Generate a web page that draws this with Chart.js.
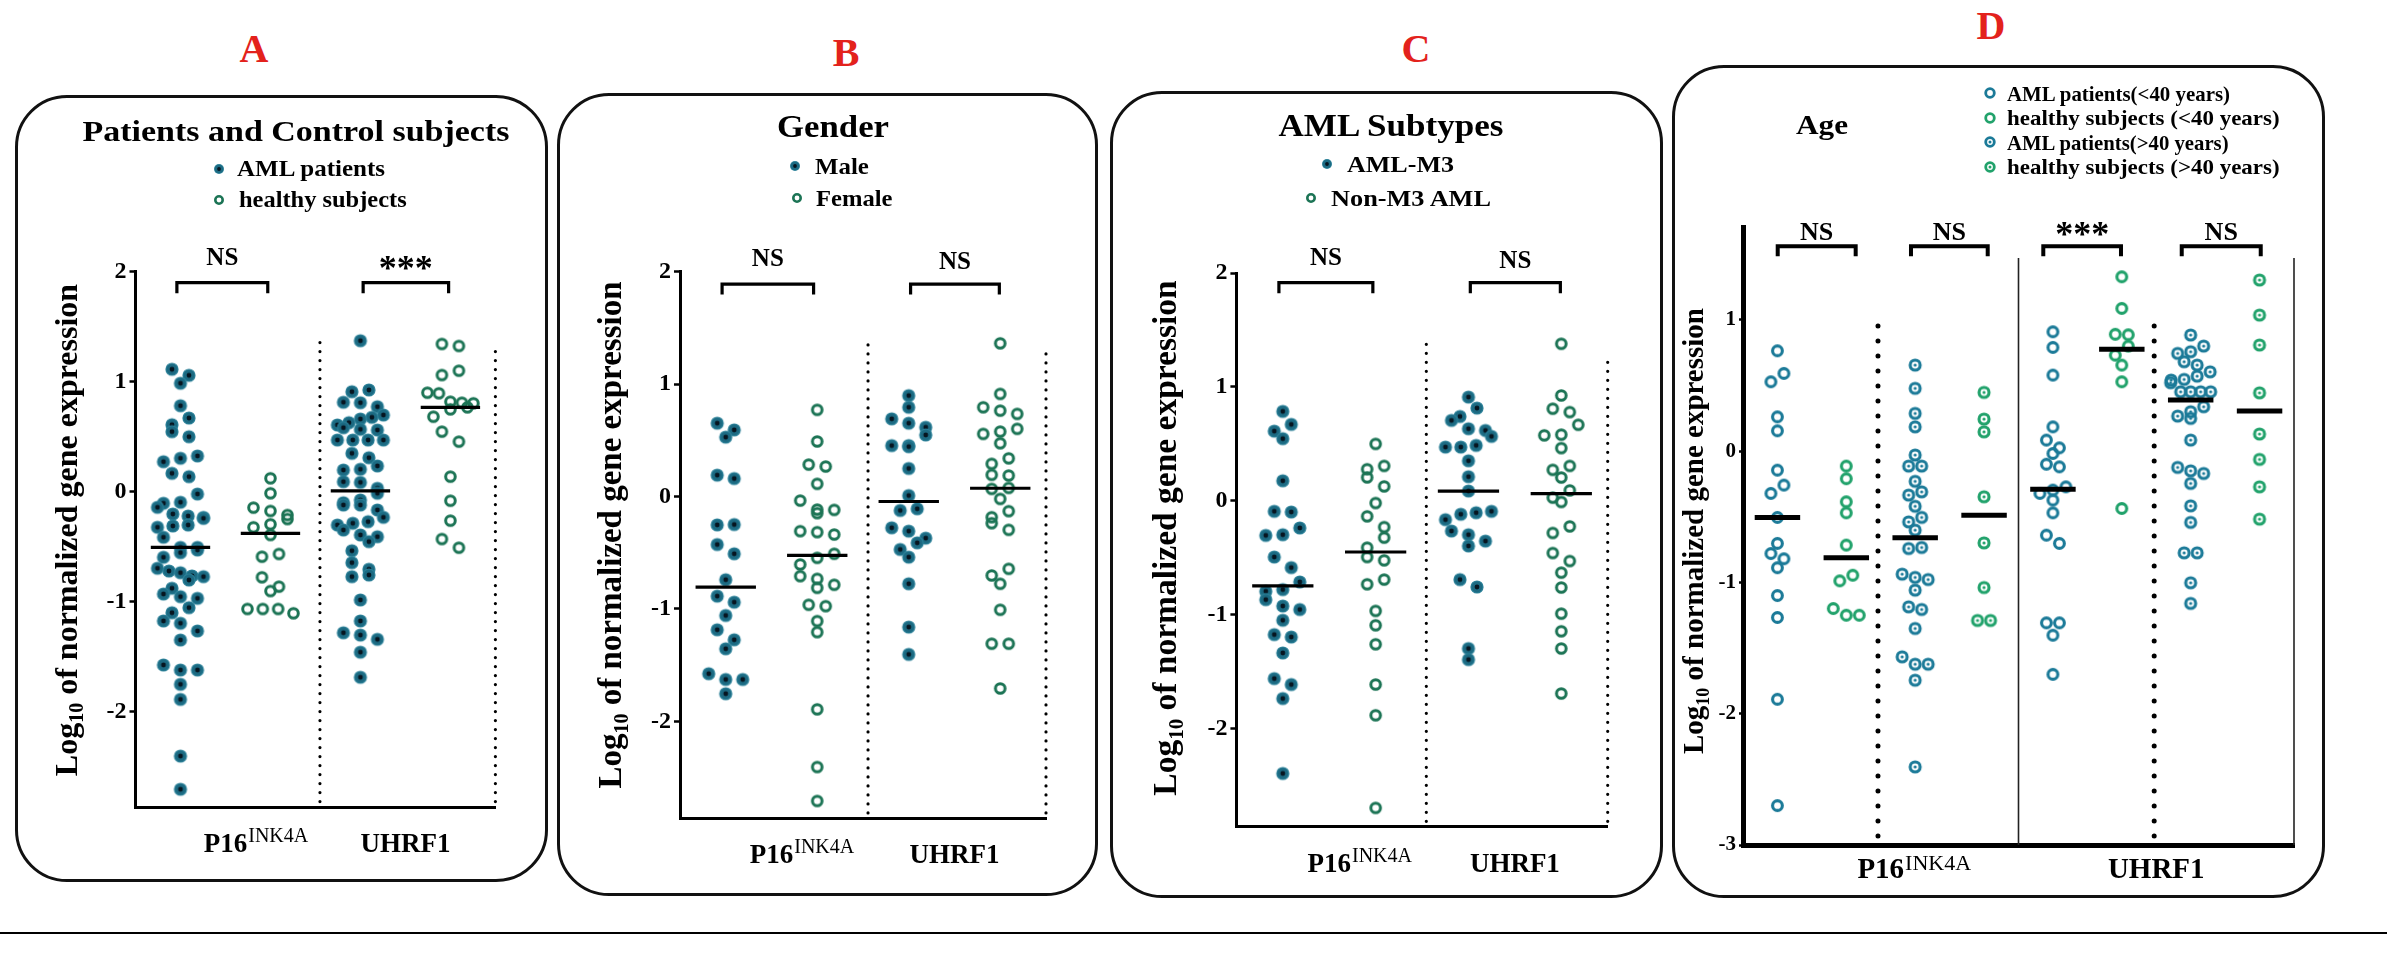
<!DOCTYPE html>
<html><head><meta charset="utf-8">
<script src="https://cdn.jsdelivr.net/npm/chart.js@4.4.1/dist/chart.umd.min.js"></script>
<style>
html,body{margin:0;padding:0;background:#fff;}
body{width:2387px;height:969px;position:relative;overflow:hidden;font-family:"Liberation Serif","Times New Roman",serif;color:#000;}
.box{position:absolute;border:3px solid #111;border-radius:52px;box-sizing:border-box;}
.t{position:absolute;line-height:1;white-space:nowrap;font-weight:bold;z-index:3;}
canvas{position:absolute;z-index:2;}
.mk{position:absolute;z-index:3;}
#bottomline{position:absolute;left:0;top:932px;width:2387px;height:2px;background:#000;}
</style></head><body>
<div class="box" style="left:15px;top:95px;width:533px;height:787px"></div>
<div class="box" style="left:557px;top:93px;width:541px;height:803px"></div>
<div class="box" style="left:1110px;top:91px;width:553px;height:807px"></div>
<div class="box" style="left:1672px;top:65px;width:653px;height:833px"></div>
<div id="bottomline"></div>
<script>
// ---------------- DATA ----------------
const PANEL_LETTERS = ['A', 'B', 'C', 'D'];
const GENES = ['P16', 'UHRF1'];
const GENE_SUP = ['INK4A', ''];
const Y_TITLE = ['Log', '10', ' of normalized gene expression'];
const Y_TICKS_ABC = [2, 1, 0, -1, -2];
const Y_TICKS_D = [1, 0, -1, -2, -3];

// Panel A: Patients and Control subjects
const A_TITLE = 'Patients and Control subjects';
const A_SERIES = ['AML patients', 'healthy subjects'];
const A_aml_p16 = [1.111, 1.056, 0.984, 0.78, 0.668, 0.607, 0.544, 0.498, 0.323, 0.302, 0.271, 0.165, 0.135, -0.023, -0.098, -0.107, -0.144, -0.205, -0.223, -0.236, -0.244, -0.305, -0.313, -0.325, -0.416, -0.508, -0.508, -0.532, -0.556, -0.598, -0.698, -0.723, -0.738, -0.768, -0.774, -0.805, -0.88, -0.932, -0.956, -0.971, -1.056, -1.102, -1.177, -1.198, -1.268, -1.35, -1.577, -1.623, -1.623, -1.753, -1.89, -2.405, -2.707];
const A_healthy_p16 = [0.12, -0.016, -0.147, -0.177, -0.214, -0.25, -0.298, -0.325, -0.395, -0.568, -0.593, -0.78, -0.865, -0.905, -1.068, -1.068, -1.068, -1.107];
const A_aml_uhrf1 = [1.371, 0.923, 0.907, 0.811, 0.807, 0.771, 0.695, 0.674, 0.659, 0.626, 0.605, 0.58, 0.565, 0.559, 0.468, 0.468, 0.468, 0.468, 0.347, 0.307, 0.232, 0.202, 0.195, 0.089, 0.083, 0.029, -0.016, -0.077, -0.102, -0.123, -0.123, -0.168, -0.235, -0.274, -0.289, -0.305, -0.35, -0.395, -0.411, -0.456, -0.538, -0.647, -0.707, -0.759, -0.774, -0.986, -1.177, -1.284, -1.305, -1.344, -1.461, -1.689];
const A_healthy_uhrf1 = [1.341, 1.323, 1.098, 1.059, 0.898, 0.893, 0.816, 0.807, 0.802, 0.765, 0.747, 0.68, 0.544, 0.453, 0.135, -0.084, -0.265, -0.432, -0.511];
const A_medians = [-0.508, -0.38, 0.005, 0.765];
const A_sig = ['NS', '***'];

// Panel B: Gender
const B_TITLE = 'Gender';
const B_SERIES = ['Male', 'Female'];
const B_male_p16 = [0.652, 0.593, 0.528, 0.19, 0.16, -0.249, -0.252, -0.427, -0.509, -0.74, -0.886, -0.94, -1.058, -1.185, -1.274, -1.354, -1.576, -1.627, -1.627, -1.754];
const B_female_p16 = [0.771, 0.49, 0.284, 0.267, 0.113, -0.036, -0.116, -0.119, -0.148, -0.308, -0.317, -0.338, -0.509, -0.545, -0.604, -0.708, -0.732, -0.785, -0.812, -0.963, -0.975, -1.108, -1.206, -1.893, -2.406, -2.708];
const B_male_uhrf1 = [0.898, 0.794, 0.691, 0.652, 0.616, 0.548, 0.453, 0.444, 0.453, 0.25, 0.009, -0.109, -0.124, -0.278, -0.308, -0.37, -0.412, -0.471, -0.539, -0.776, -1.161, -1.404];
const B_female_uhrf1 = [1.363, 0.913, 0.794, 0.764, 0.735, 0.602, 0.578, 0.557, 0.474, 0.34, 0.291, 0.193, 0.187, 0.077, 0.068, -0.021, -0.13, -0.184, -0.237, -0.296, -0.643, -0.702, -0.776, -1.007, -1.309, -1.309, -1.707];
const B_medians = [-0.806, -0.524, -0.044, 0.074];
const B_sig = ['NS', 'NS'];

// Panel C: AML Subtypes
const C_TITLE = 'AML Subtypes';
const C_SERIES = ['AML-M3', 'Non-M3 AML'];
const C_m3_p16 = [0.785, 0.671, 0.612, 0.546, 0.176, -0.092, -0.098, -0.238, -0.297, -0.303, -0.493, -0.586, -0.712, -0.779, -0.794, -0.867, -0.923, -0.954, -1.048, -1.174, -1.195, -1.335, -1.56, -1.612, -1.735, -2.393];
const C_nonm3_p16 = [0.5, 0.307, 0.278, 0.206, 0.127, -0.019, -0.136, -0.23, -0.323, -0.411, -0.493, -0.522, -0.691, -0.732, -0.966, -1.092, -1.259, -1.612, -1.882, -2.695];
const C_m3_uhrf1 = [0.911, 0.814, 0.741, 0.706, 0.633, 0.618, 0.566, 0.487, 0.472, 0.472, 0.352, 0.212, 0.086, -0.092, -0.104, -0.118, -0.165, -0.265, -0.297, -0.353, -0.396, -0.691, -0.756, -1.296, -1.393];
const C_nonm3_uhrf1 = [1.379, 0.925, 0.809, 0.779, 0.668, 0.581, 0.575, 0.463, 0.307, 0.272, 0.205, 0.092, 0.028, -0.01, -0.224, -0.282, -0.458, -0.528, -0.63, -0.761, -0.99, -1.145, -1.296, -1.691];
const C_medians = [-0.746, -0.449, 0.086, 0.063];
const C_sig = ['NS', 'NS'];

// Panel D: Age
const D_TITLE = 'Age';
const D_SERIES = ['AML patients(<40 years)', 'healthy subjects (<40 years)', 'AML patients(>40 years)', 'healthy subjects (>40 years)'];
const D_aml_lt40_p16 = [0.764, 0.592, 0.528, 0.261, 0.155, -0.145, -0.259, -0.322, -0.505, -0.703, -0.78, -0.82, -0.888, -1.10, -1.267, -1.89, -2.70];
const D_hs_lt40_p16 = [-0.114, -0.21, -0.386, -0.47, -0.716, -0.945, -0.988, -1.199, -1.25, -1.25];
const D_aml_gt40_p16 = [0.655, 0.478, 0.287, 0.185, -0.03, -0.114, -0.114, -0.23, -0.31, -0.335, -0.42, -0.505, -0.539, -0.602, -0.734, -0.742, -0.937, -0.962, -0.978, -1.059, -1.186, -1.206, -1.351, -1.567, -1.623, -1.623, -1.745, -2.405];
const D_hs_gt40_p16 = [0.447, 0.244, 0.147, -0.348, -0.699, -1.039, -1.29, -1.29];
const D_aml_lt40_uhrf1 = [0.909, 0.79, 0.579, 0.185, 0.084, 0.025, -0.018, -0.1, -0.12, -0.272, -0.297, -0.322, -0.373, -0.47, -0.64, -0.703, -1.308, -1.308, -1.402, -1.70];
const D_hs_lt40_uhrf1 = [1.328, 1.087, 0.89, 0.886, 0.8, 0.731, 0.655, 0.528, -0.437];
const D_aml_gt40_uhrf1 = [0.884, 0.8, 0.757, 0.744, 0.681, 0.655, 0.604, 0.571, 0.546, 0.541, 0.521, 0.452, 0.452, 0.452, 0.452, 0.338, 0.3, 0.267, 0.249, 0.084, -0.124, -0.15, -0.17, -0.246, -0.417, -0.543, -0.775, -0.775, -1.003, -1.16];
const D_hs_gt40_uhrf1 = [1.303, 1.036, 0.808, 0.444, 0.13, -0.063, -0.272, -0.518];
const D_medians = [-0.505, -0.813, -0.66, -0.488, -0.29, 0.775, 0.389, 0.305];
const D_sig = ['NS', 'NS', '***', 'NS'];

// ---------------- STYLE / MARKERS ----------------
const FONT = '"Liberation Serif", "Times New Roman", serif';
Chart.defaults.font.family = FONT;
const COL = { tealEdge: '#2b8098', teal: '#1c6a82', tealCore: '#061520', green: '#1c7455', dBlue: '#1b7a98', dGreen: '#21a26b' };

function marker(kind, color, r, lw, core) {
  const s = Math.ceil(2 * r + lw + 2);
  const c = document.createElement('canvas'); c.width = s; c.height = s;
  const g = c.getContext('2d'); const m = s / 2;
  if (kind === 'fill') {
    g.fillStyle = COL.tealEdge; g.beginPath(); g.arc(m, m, r, 0, 2 * Math.PI); g.fill();
    g.fillStyle = color; g.beginPath(); g.arc(m, m, r * 0.82, 0, 2 * Math.PI); g.fill();
    g.fillStyle = COL.tealCore; g.beginPath(); g.arc(m, m, core, 0, 2 * Math.PI); g.fill();
  } else {
    g.strokeStyle = color; g.lineWidth = lw; g.beginPath(); g.arc(m, m, r, 0, 2 * Math.PI); g.stroke();
    if (kind === 'ringdot') { g.fillStyle = color; g.beginPath(); g.arc(m, m, core, 0, 2 * Math.PI); g.fill(); }
  }
  return c;
}
const MK = {
  fillA: marker('fill', COL.teal, 6.6, 0, 2.4),
  ringA: marker('ring', COL.green, 4.8, 3.0),
  dAml: marker('ring', COL.dBlue, 4.9, 3.1),
  dHs: marker('ring', COL.dGreen, 4.9, 3.1),
  dAmlDot: marker('ringdot', COL.dBlue, 5.0, 3.1, 1.6),
  dHsDot: marker('ringdot', COL.dGreen, 5.0, 3.1, 1.6),
  legFill: marker('fill', COL.teal, 5.0, 0, 1.9),
  legRing: marker('ring', COL.green, 3.7, 2.6),
  legDAml: marker('ring', COL.dBlue, 4.3, 2.8),
  legDHs: marker('ring', COL.dGreen, 4.3, 2.8),
  legDAmlDot: marker('ringdot', COL.dBlue, 4.3, 2.8, 1.5),
  legDHsDot: marker('ringdot', COL.dGreen, 4.3, 2.8, 1.5)
};

// ---------------- HTML TEXT ----------------
function addText(str, x, capMid, fs, opt) {
  opt = opt || {};
  const d = document.createElement('div'); d.className = 't'; d.textContent = str;
  d.style.fontSize = fs + 'px'; d.style.left = x + 'px'; d.style.top = (capMid - 0.5065 * fs) + 'px';
  if (opt.color) d.style.color = opt.color;
  document.body.appendChild(d);
  const w = d.getBoundingClientRect().width;
  const sx = opt.width ? opt.width / w : 1;
  d.style.transformOrigin = '0 0';
  d.style.transform = (opt.center ? `translateX(${-w * sx / 2}px) ` : '') + `scaleX(${sx})`;
}
function addMarker(c, x, y) {
  const im = document.createElement('img'); im.className = 'mk'; im.src = c.toDataURL();
  im.style.left = (x - c.width / 2) + 'px'; im.style.top = (y - c.height / 2) + 'px';
  document.body.appendChild(im);
}
// panel letters
[[254, 49], [846, 53], [1416, 49], [1991, 26]].forEach((p, i) => addText(PANEL_LETTERS[i], p[0], p[1], 40, { center: true, color: '#e3221c' }));
// titles
addText(A_TITLE, 295.7, 131, 30, { center: true, width: 427 });
addText(B_TITLE, 833, 126, 32, { center: true, width: 112 });
addText(C_TITLE, 1390.6, 125, 32, { center: true, width: 225 });
addText(D_TITLE, 1822, 126, 27, { center: true, width: 52 });
// legends
addMarker(MK.legFill, 219.2, 169.3); addText(A_SERIES[0], 237, 168.5, 24, { width: 148 });
addMarker(MK.legRing, 219.2, 200); addText(A_SERIES[1], 238.9, 199.5, 24, { width: 167.7 });
addMarker(MK.legFill, 794.8, 166); addText(B_SERIES[0], 815, 166, 24, { width: 53.9 });
addMarker(MK.legRing, 796.6, 198.3); addText(B_SERIES[1], 816.4, 198.3, 24, { width: 76.5 });
addMarker(MK.legFill, 1327.4, 164); addText(C_SERIES[0], 1347, 164, 24, { width: 107 });
addMarker(MK.legRing, 1311, 197.7); addText(C_SERIES[1], 1330.6, 197.7, 24, { width: 160 });
[[MK.legDAml, 223], [MK.legDHs, 272.6], [MK.legDAmlDot, 221.6], [MK.legDHsDot, 272.6]].forEach((m, i) => {
  const y = 93.3 + i * 24.5;
  addMarker(m[0], 1990, y); addText(D_SERIES[i], 2006.7, y + 1, 21, { width: m[1] });
});

// ---------------- CHARTS ----------------
const BASE_ABC = { axisW: 3, tickFont: 24, tickLen: 6, tickPad: 3, medianW: 3.2, bracketW: 3.2, leg: 10.5, nsFont: 25, starFont: 36, starGap: 3, dotSize: 3.2, dotGap: 9, binH: 11, spacing: 17, maxHalf: 23, yAxisW: 50, catFont: 27, supFont: 20, supRaise: 10, catBase: 45, xMax: 4, cols: [0.5, 1.5, 2.5, 3.5], groupX: [1, 3] };
const PANELS = [
  Object.assign({}, BASE_ABC, {
    canvas: { left: 15, top: 95, w: 533, h: 787 }, area: { l: 135.5, r: 495.4, t: 271.5, b: 807 }, yMin: -2.868, yMax: 2,
    series: [A_aml_p16, A_healthy_p16, A_aml_uhrf1, A_healthy_uhrf1], markers: ['fillA', 'ringA', 'fillA', 'ringA'], medians: A_medians,
    seps: [{ x: 2.05, top: 1.407, kind: 'dot' }, { x: 4, top: 1.286, kind: 'dot' }],
    brackets: [{ x1: 0.46, x2: 1.47, y: 1.898, gap: 17.7 }, { x1: 2.53, x2: 3.48, y: 1.898, gap: 17 }], sig: A_sig,
    axisTitle: { bx: 77, cy: 530, fs: 32 }, catBase: 44.7
  }),
  Object.assign({}, BASE_ABC, {
    canvas: { left: 557, top: 93, w: 541, h: 803 }, area: { l: 680, r: 1046, t: 271.7, b: 818.3 }, yMin: -2.862, yMax: 2,
    series: [B_male_p16, B_female_p16, B_male_uhrf1, B_female_uhrf1], markers: ['fillA', 'ringA', 'fillA', 'ringA'], medians: B_medians,
    seps: [{ x: 2.055, top: 1.387, kind: 'dot' }, { x: 4, top: 1.271, kind: 'dot' }],
    brackets: [{ x1: 0.46, x2: 1.46, y: 1.89, gap: 18.3 }, { x1: 2.52, x2: 3.49, y: 1.89, gap: 15 }], sig: B_sig,
    axisTitle: { bx: 621, cy: 535, fs: 33 }
  }),
  Object.assign({}, BASE_ABC, {
    canvas: { left: 1110, top: 91, w: 553, h: 807 }, area: { l: 1236.4, r: 1607.7, t: 273, b: 826.7 }, yMin: -2.86, yMax: 2,
    series: [C_m3_p16, C_nonm3_p16, C_m3_uhrf1, C_nonm3_uhrf1], markers: ['fillA', 'ringA', 'fillA', 'ringA'], medians: C_medians,
    seps: [{ x: 2.046, top: 1.408, kind: 'dot' }, { x: 4, top: 1.294, kind: 'dot' }],
    brackets: [{ x1: 0.458, x2: 1.47, y: 1.915, gap: 17.7 }, { x1: 2.52, x2: 3.49, y: 1.915, gap: 14.4 }], sig: C_sig,
    axisTitle: { bx: 1176.4, cy: 538, fs: 33.5 }
  }),
  {
    axisW: 5, tickFont: 21, tickLen: 4, tickPad: 3, medianW: 5, bracketW: 4, leg: 10, nsFont: 26, starFont: 36, starGap: 0, dotSize: 5, dotGap: 15, binH: 10, spacing: 13, maxHalf: 20, yAxisW: 40,
    catFont: 29, supFont: 22, supRaise: 8.7, catBase: 33.3, xMax: 8, cols: [0.5, 1.5, 2.5, 3.5, 4.5, 5.5, 6.5, 7.5], groupX: [2, 6],
    canvas: { left: 1672, top: 65, w: 653, h: 833 }, area: { l: 1743, r: 2294, t: 227, b: 845 }, yMin: -3, yMax: 1.707,
    series: [D_aml_lt40_p16, D_hs_lt40_p16, D_aml_gt40_p16, D_hs_gt40_p16, D_aml_lt40_uhrf1, D_hs_lt40_uhrf1, D_aml_gt40_uhrf1, D_hs_gt40_uhrf1],
    markers: ['dAml', 'dHs', 'dAmlDot', 'dHsDot', 'dAml', 'dHs', 'dAmlDot', 'dHsDot'], medians: D_medians,
    seps: [{ x: 1.96, top: 1.02, kind: 'dot' }, { x: 4, top: 1.47, kind: 'line' }, { x: 5.97, top: 1.02, kind: 'dot' }, { x: 8, top: 1.47, kind: 'line' }],
    brackets: [{ x1: 0.504, x2: 1.636, y: 1.56, gap: 6.3 }, { x1: 2.439, x2: 3.553, y: 1.56, gap: 6.3 }, { x1: 4.36, x2: 5.488, y: 1.56, gap: 0 }, { x1: 6.37, x2: 7.517, y: 1.56, gap: 6.3 }], sig: D_sig,
    axisTitle: { bx: 1703.3, cy: 531, fs: 29 }
  }
];

// GraphPad-like column scatter: points grouped in horizontal bins, spread symmetrically inside each bin
function binOffsets(vals, pxPerY, binH, spacing, maxHalf) {
  const order = vals.map((v, i) => i).sort((a, b) => vals[b] - vals[a]);
  const offs = new Array(vals.length).fill(0);
  let bin = [], startY = 0, binNo = 0;
  const flush = () => {
    const n = bin.length;
    const s = n > 1 ? Math.min(spacing, 2 * maxHalf / (n - 1)) : 0;
    const seq = (binNo % 2 === 0) ? bin : bin.slice().reverse();
    seq.forEach((i, k) => { offs[i] = (k - (n - 1) / 2) * s; });
    bin = []; binNo++;
  };
  for (const i of order) {
    const y = vals[i] * pxPerY;
    if (bin.length && (startY - y) >= binH) flush();
    if (!bin.length) startY = y;
    bin.push(i);
  }
  if (bin.length) flush();
  return offs;
}

function makeDecor(P) {
  return {
    id: 'decor',
    beforeDatasetsDraw(chart) {
      const ctx = chart.ctx, xs = chart.scales.x, ys = chart.scales.y;
      ctx.save();
      P.seps.forEach(s => {
        const x = xs.getPixelForValue(s.x), yb = ys.getPixelForValue(P.yMin), yt = ys.getPixelForValue(s.top);
        ctx.beginPath();
        if (s.kind === 'dot') { ctx.setLineDash([0, P.dotGap]); ctx.lineCap = 'round'; ctx.lineWidth = P.dotSize; ctx.strokeStyle = '#000'; ctx.moveTo(x, yb - P.dotGap * 0.6); }
        else { ctx.setLineDash([]); ctx.lineCap = 'butt'; ctx.lineWidth = 1.6; ctx.strokeStyle = '#222'; ctx.moveTo(x, yb); }
        ctx.lineTo(x, yt); ctx.stroke();
      });
      ctx.restore();
    },
    afterDraw(chart) {
      const ctx = chart.ctx, xs = chart.scales.x, ys = chart.scales.y, ca = chart.chartArea;
      ctx.save();
      ctx.strokeStyle = '#000'; ctx.fillStyle = '#000'; ctx.lineWidth = P.bracketW; ctx.lineJoin = 'miter'; ctx.lineCap = 'butt';
      P.brackets.forEach((b, i) => {
        const x1 = xs.getPixelForValue(b.x1), x2 = xs.getPixelForValue(b.x2), y = ys.getPixelForValue(b.y);
        ctx.beginPath(); ctx.moveTo(x1, y + P.leg); ctx.lineTo(x1, y); ctx.lineTo(x2, y); ctx.lineTo(x2, y + P.leg); ctx.stroke();
        const txt = P.sig[i]; const star = txt.indexOf('*') >= 0;
        ctx.font = `bold ${star ? P.starFont : P.nsFont}px ${FONT}`; ctx.textAlign = 'center'; ctx.textBaseline = 'alphabetic';
        ctx.fillText(txt, (x1 + x2) / 2, y - (star ? P.starGap : b.gap));
      });
      P.groupX.forEach((gx, gi) => {
        const x = xs.getPixelForValue(gx), y = ca.bottom + P.catBase;
        ctx.font = `bold ${P.catFont}px ${FONT}`; ctx.textAlign = 'center'; ctx.textBaseline = 'alphabetic';
        ctx.fillText(GENES[gi], x, y);
        if (GENE_SUP[gi]) {
          const w = ctx.measureText(GENES[gi]).width;
          ctx.font = `${P.supFont}px ${FONT}`; ctx.textAlign = 'left';
          ctx.fillText(GENE_SUP[gi], x + w / 2 + 1, y - P.supRaise);
        }
      });
      const at = P.axisTitle;
      ctx.translate(at.bx - P.canvas.left, at.cy - P.canvas.top); ctx.rotate(-Math.PI / 2);
      const fMain = `bold ${at.fs}px ${FONT}`, fSub = `bold ${Math.round(at.fs * 0.62)}px ${FONT}`;
      ctx.font = fMain; const w1 = ctx.measureText(Y_TITLE[0]).width, w3 = ctx.measureText(Y_TITLE[2]).width;
      ctx.font = fSub; const w2 = ctx.measureText(Y_TITLE[1]).width;
      let x = -(w1 + w2 + w3) / 2; ctx.textAlign = 'left'; ctx.textBaseline = 'alphabetic';
      ctx.font = fMain; ctx.fillText(Y_TITLE[0], x, 0); x += w1;
      ctx.font = fSub; ctx.fillText(Y_TITLE[1], x, at.fs * 0.2); x += w2;
      ctx.font = fMain; ctx.fillText(Y_TITLE[2], x, 0);
      ctx.restore();
    }
  };
}

function makePanel(P, idx) {
  const cv = document.createElement('canvas');
  cv.width = P.canvas.w; cv.height = P.canvas.h;
  cv.style.left = P.canvas.left + 'px'; cv.style.top = P.canvas.top + 'px';
  document.body.appendChild(cv);
  const xH = 10;
  const padding = { left: P.area.l - P.canvas.left - P.yAxisW, top: P.area.t - P.canvas.top, right: P.canvas.left + P.canvas.w - P.area.r, bottom: P.canvas.top + P.canvas.h - P.area.b - xH };
  const ticksWanted = idx === 3 ? Y_TICKS_D : Y_TICKS_ABC;
  const datasets = [];
  P.medians.forEach((m, i) => {
    const c = P.cols[i];
    datasets.push({ data: [{ x: c - 0.33, y: m }, { x: c + 0.33, y: m }], showLine: true, borderColor: '#000', borderWidth: P.medianW, pointRadius: 0, order: 0, clip: false });
  });
  P.series.forEach((vals, i) => {
    datasets.push({ data: vals.map(v => ({ x: P.cols[i], y: v })), pointStyle: MK[P.markers[i]], pointRadius: 5, order: 1, clip: false });
  });
  const chart = new Chart(cv, {
    type: 'scatter',
    data: { datasets },
    options: {
      responsive: false, animation: false, devicePixelRatio: 1, events: [],
      layout: { padding },
      plugins: { legend: { display: false }, tooltip: { enabled: false } },
      scales: {
        x: { type: 'linear', min: 0, max: P.xMax, ticks: { display: false }, grid: { display: false },
             border: { display: true, color: '#000', width: P.axisW }, afterFit(s) { s.height = xH; } },
        y: { type: 'linear', min: P.yMin, max: P.yMax,
             afterBuildTicks(s) { s.ticks = ticksWanted.map(v => ({ value: v })); },
             ticks: { color: '#000', font: { family: FONT, weight: 'bold', size: P.tickFont }, padding: P.tickPad },
             grid: { display: true, drawOnChartArea: false, drawTicks: true, tickLength: P.tickLen, tickWidth: 2.5, tickColor: '#000', color: '#000' },
             border: { display: true, color: '#000', width: P.axisW }, afterFit(s) { s.width = P.yAxisW; } }
      }
    },
    plugins: [makeDecor(P)]
  });
  const xs = chart.scales.x, ys = chart.scales.y;
  const pxX = (xs.right - xs.left) / P.xMax, pxY = (ys.bottom - ys.top) / (P.yMax - P.yMin);
  P.series.forEach((vals, i) => {
    const offs = binOffsets(vals, pxY, P.binH, P.spacing, P.maxHalf);
    chart.data.datasets[P.medians.length + i].data = vals.map((v, j) => ({ x: P.cols[i] + offs[j] / pxX, y: v }));
  });
  chart.update('none');
}
PANELS.forEach(makePanel);
</script>
</body></html>
